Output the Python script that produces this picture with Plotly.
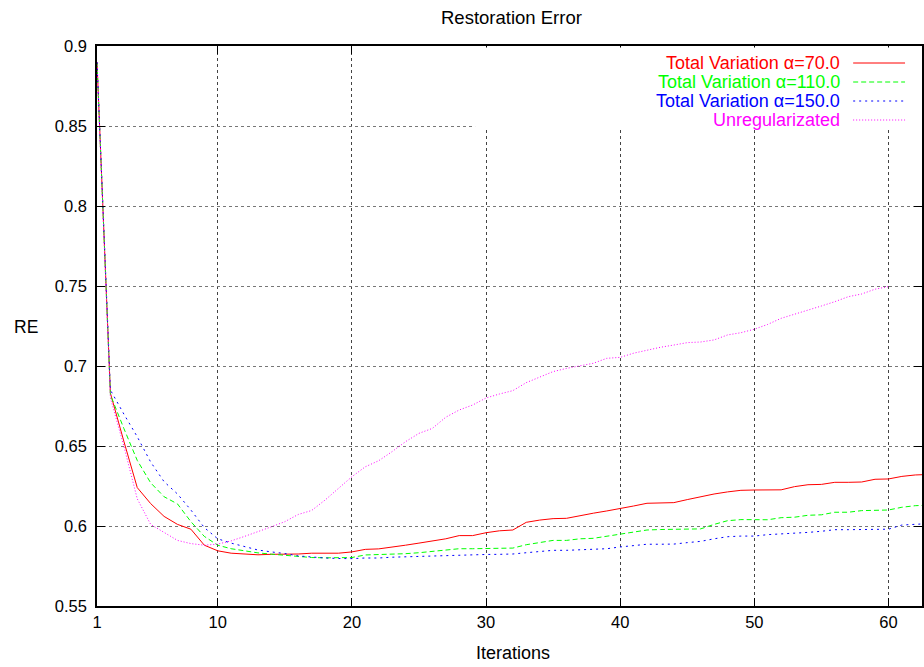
import plotly.graph_objects as go

# Iteration counts
iterations = list(range(1, 64))
iterations_unreg = list(range(1, 61))

# Restoration error per iteration
tv_alpha_70 = [0.890, 0.683, 0.653, 0.624, 0.614, 0.606, 0.601, 0.598, 0.588, 0.5845,
               0.583, 0.5823, 0.582, 0.5823, 0.5823, 0.5825, 0.583, 0.583, 0.583, 0.5838,
               0.5854, 0.5857, 0.5867, 0.588, 0.5893, 0.5906, 0.592, 0.594, 0.594, 0.5958,
               0.597, 0.5975, 0.6023, 0.6037, 0.6046, 0.6048, 0.6065, 0.608, 0.6094, 0.6108,
               0.6125, 0.6142, 0.6144, 0.6146, 0.6165, 0.6183, 0.620, 0.6213, 0.6223, 0.6225,
               0.6225, 0.6226, 0.6246, 0.6258, 0.626, 0.6273, 0.6273, 0.6275, 0.6292, 0.6294,
               0.631, 0.6319, 0.6322]
tv_alpha_110 = [0.890, 0.682, 0.661, 0.641, 0.627, 0.6183, 0.6138, 0.6027, 0.5935, 0.588,
                0.5858, 0.5845, 0.5832, 0.5824, 0.5816, 0.5809, 0.5803, 0.5801, 0.580, 0.5803,
                0.5819, 0.5821, 0.5822, 0.5827, 0.5833, 0.5842, 0.585, 0.5858, 0.5858, 0.5859,
                0.586, 0.5862, 0.5883, 0.5898, 0.591, 0.591, 0.592, 0.5923, 0.5935, 0.595,
                0.5963, 0.5975, 0.5978, 0.598, 0.598, 0.5982, 0.601, 0.6033, 0.604, 0.604,
                0.6039, 0.6052, 0.6055, 0.6067, 0.607, 0.6086, 0.6086, 0.6096, 0.6098, 0.610,
                0.6117, 0.6127, 0.613]
tv_alpha_150 = [0.890, 0.685, 0.670, 0.6558, 0.640, 0.6277, 0.620, 0.610, 0.599, 0.592,
                0.5893, 0.587, 0.585, 0.5838, 0.5828, 0.5813, 0.5806, 0.580, 0.5797, 0.5796,
                0.580, 0.580, 0.5805, 0.5808, 0.5811, 0.5813, 0.5815, 0.5819, 0.582, 0.5822,
                0.5823, 0.5825, 0.5833, 0.5842, 0.5848, 0.5848, 0.585, 0.5854, 0.5858, 0.5869,
                0.5877, 0.5886, 0.5886, 0.5887, 0.5896, 0.5904, 0.592, 0.5933, 0.5937, 0.5937,
                0.5946, 0.595, 0.5954, 0.596, 0.5967, 0.5977, 0.5977, 0.5977, 0.5978, 0.598,
                0.6006, 0.6012, 0.6015]
unregularized = [0.890, 0.680, 0.650, 0.617, 0.601, 0.5958, 0.591, 0.589, 0.588, 0.5887,
                 0.5907, 0.5935, 0.5964, 0.5995, 0.6027, 0.6072, 0.6097, 0.6162, 0.6235, 0.6308,
                 0.637, 0.6408, 0.6465, 0.6527, 0.6579, 0.661, 0.668, 0.6725, 0.6756, 0.680,
                 0.6825, 0.6846, 0.6896, 0.693, 0.6965, 0.6985, 0.700, 0.7017, 0.7048, 0.7054,
                 0.708, 0.710, 0.7117, 0.7131, 0.7146, 0.715, 0.7163, 0.7194, 0.7208, 0.723,
                 0.726, 0.7298, 0.7323, 0.7346, 0.7375, 0.7402, 0.7433, 0.745, 0.748, 0.7496]

series_names = ["Total Variation \u03b1=70.0", "Total Variation \u03b1=110.0",
                "Total Variation \u03b1=150.0", "Unregularizated"]
series_colors = ["#ff0000", "#00ff00", "#0000ff", "#ff00ff"]
series_dashes = ["solid", "5px,3px", "2px,4px", "1px,2px"]

x_ticks = [1, 10, 20, 30, 40, 50, 60]
y_ticks = [0.55, 0.6, 0.65, 0.7, 0.75, 0.8, 0.85, 0.9]
y_tick_text = ["0.55", "0.6", "0.65", "0.7", "0.75", "0.8", "0.85", "0.9"]

FONT = "Liberation Sans, Arial, sans-serif"
W, H = 924, 667
L, R, T, B = 97, 0, 46, 61
PW, PH = W - L - R, H - T - B

def px(x):
    return (x - L) / PW

def py(y):
    return (H - B - y) / PH

fig = go.Figure()
xs = [iterations, iterations, iterations, iterations_unreg]
ys = [tv_alpha_70, tv_alpha_110, tv_alpha_150, unregularized]
for name, color, dash, xv, yv in zip(series_names, series_colors, series_dashes, xs, ys):
    fig.add_trace(go.Scatter(x=xv, y=yv, mode="lines", name=name, showlegend=False,
                             line=dict(color=color, width=1, dash=dash)))

shapes = []
annotations = []
# key box blanks out the grid behind the legend
shapes.append(dict(type="rect", xref="paper", yref="paper", layer="above",
                   x0=px(476), x1=1.0, y0=py(129), y1=py(47.5),
                   fillcolor="white", line=dict(width=0)))
row_y = [63, 82, 101, 120]
for name, color, dash, ry in zip(series_names, series_colors, series_dashes, row_y):
    annotations.append(dict(xref="paper", yref="paper", x=px(843), y=py(ry),
                            text=name, showarrow=False, xanchor="right", yanchor="middle",
                            borderpad=0,
                            font=dict(family=FONT, size=18, color=color)))
    shapes.append(dict(type="line", xref="paper", yref="paper", layer="above",
                       x0=px(855), x1=px(907), y0=py(ry), y1=py(ry),
                       line=dict(color=color, width=1, dash=dash)))

annotations.append(dict(xref="paper", yref="paper", x=px(513), y=py(18), text="Restoration Error",
                        showarrow=False, xanchor="center", yanchor="middle",
                        font=dict(family=FONT, size=18.5, color="black")))
annotations.append(dict(xref="paper", yref="paper", x=px(514), y=py(653), text="Iterations",
                        showarrow=False, xanchor="center", yanchor="middle",
                        font=dict(family=FONT, size=18, color="black")))
annotations.append(dict(xref="paper", yref="paper", x=px(26), y=py(327), text="RE",
                        showarrow=False, xanchor="center", yanchor="middle",
                        font=dict(family=FONT, size=17.5, color="black")))

fig.update_layout(
    width=W, height=H,
    margin=dict(l=L, r=R, t=T, b=B),
    paper_bgcolor="white", plot_bgcolor="white",
    font=dict(family=FONT, size=17, color="black"),
    showlegend=False,
    shapes=shapes, annotations=annotations,
)
fig.update_xaxes(range=[1, 1 + PW / 13.447], tickvals=x_ticks, ticks="inside", ticklen=8,
                 tickcolor="black", showline=True, linecolor="black", linewidth=1.5,
                 mirror="ticks", showgrid=True, gridcolor="#444", griddash="dot",
                 gridwidth=1, zeroline=False, tickfont=dict(family=FONT, size=16.5))
fig.update_yaxes(range=[0.55, 0.9], tickvals=y_ticks, ticktext=y_tick_text, ticks="inside",
                 ticklen=8, tickcolor="black", showline=True, linecolor="black", linewidth=1.5,
                 mirror="ticks", showgrid=True, gridcolor="#777", griddash="dot",
                 gridwidth=1, zeroline=False, ticklabelstandoff=5,
                 tickfont=dict(family=FONT, size=16.5))

fig.write_html("out.html")
